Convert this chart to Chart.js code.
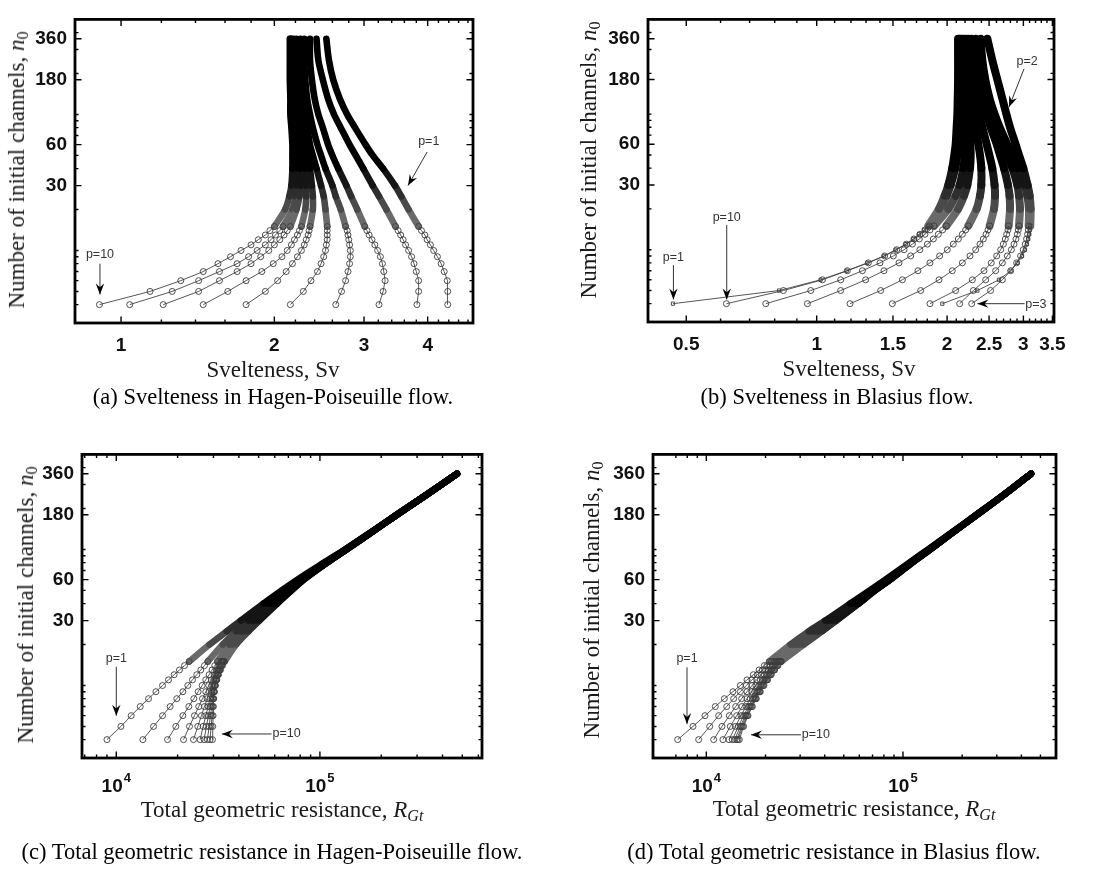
<!DOCTYPE html>
<html>
<head>
<meta charset="utf-8">
<script src="https://cdn.jsdelivr.net/npm/chart.js@4.4.1/dist/chart.umd.min.js"></script>
<style>
  html,body{margin:0;padding:0;background:#fff;}
  body{width:1094px;height:870px;position:relative;overflow:hidden;}
  canvas{position:absolute;}
  .t{position:absolute;font-family:"Liberation Serif","Times New Roman",serif;color:#1a1a1a;white-space:nowrap;transform:translate(-50%,-50%);font-size:23px;line-height:1;}
  .yt{transform:translate(-50%,-50%) rotate(-90deg);}
  .t sub{font-size:70%;vertical-align:-0.25em;}
  .cap{font-size:22.5px;color:#000;}
</style>
</head>
<body>
<canvas id="ca" width="547" height="435" style="left:0;top:0"></canvas>
<canvas id="cb" width="547" height="435" style="left:547px;top:0"></canvas>
<canvas id="cc" width="547" height="435" style="left:0;top:435px"></canvas>
<canvas id="cd" width="547" height="435" style="left:547px;top:435px"></canvas>

<div class="t yt" style="left:18px;top:170px">Number of initial channels, <i>n</i><sub>0</sub></div>
<div class="t" style="left:273px;top:369px">Svelteness, Sv</div>
<div class="t cap" style="left:273px;top:397px">(a) Svelteness in Hagen-Poiseuille flow.</div>

<div class="t yt" style="left:590px;top:160px">Number of initial channels, <i>n</i><sub>0</sub></div>
<div class="t" style="left:849px;top:368px">Svelteness, Sv</div>
<div class="t cap" style="left:837px;top:397px">(b) Svelteness in Blasius flow.</div>

<div class="t yt" style="left:27px;top:605px">Number of initial channels, <i>n</i><sub>0</sub></div>
<div class="t" style="left:282px;top:811px">Total geometric resistance, <i>R</i><sub><i>Gt</i></sub></div>
<div class="t cap" style="left:272px;top:852px">(c) Total geometric resistance in Hagen-Poiseuille flow.</div>

<div class="t yt" style="left:593px;top:600px">Number of initial channels, <i>n</i><sub>0</sub></div>
<div class="t" style="left:854px;top:810px">Total geometric resistance, <i>R</i><sub><i>Gt</i></sub></div>
<div class="t cap" style="left:834px;top:852px">(d) Total geometric resistance in Blasius flow.</div>

<script>
// ---------------- DATA ----------------
// number of initial channels at which each series is sampled
const N0 = [4,5,6,7,8,9,10,11,12,13,14,15,20,25,30,40,50,60,80,100,130,180,250,360];
const CIRCLE_COUNT = 12; // the first 12 samples show as separate markers

// y-axis ticks
const Y_LABELS = [30, 60, 180, 360];
const Y_MINOR = [4,5,6,7,8,9,10,20,40,50,70,80,90,100,200,300,400];

// (a) Svelteness, Hagen-Poiseuille flow, p = 1..10
const hpSv_p1  = [4.38,4.38,4.37,4.31,4.25,4.18,4.11,4.05,3.99,3.95,3.89,3.84,3.67,3.55,3.45,3.27,3.12,3.02,2.88,2.78,2.69,2.61,2.56,2.53];
const hpSv_p2  = [3.81,3.84,3.84,3.80,3.76,3.72,3.67,3.62,3.58,3.54,3.50,3.46,3.32,3.21,3.12,2.99,2.89,2.81,2.70,2.62,2.55,2.49,2.44,2.42];
const hpSv_p3  = [3.21,3.27,3.30,3.28,3.26,3.23,3.19,3.15,3.11,3.07,3.04,3.01,2.91,2.83,2.77,2.67,2.60,2.55,2.49,2.44,2.40,2.37,2.35,2.35];
const hpSv_p4  = [2.64,2.71,2.76,2.79,2.81,2.82,2.82,2.81,2.80,2.79,2.78,2.76,2.70,2.64,2.60,2.52,2.47,2.43,2.38,2.35,2.32,2.30,2.29,2.29];
const hpSv_p5  = [2.15,2.28,2.36,2.43,2.47,2.50,2.52,2.53,2.54,2.54,2.54,2.54,2.52,2.50,2.47,2.42,2.38,2.35,2.32,2.29,2.27,2.26,2.25,2.25];
const hpSv_p6  = [1.76,1.92,2.03,2.11,2.17,2.22,2.26,2.29,2.31,2.33,2.34,2.35,2.38,2.38,2.37,2.35,2.33,2.31,2.28,2.26,2.23,2.22,2.21,2.21];
const hpSv_p7  = [1.45,1.62,1.76,1.89,1.99,2.07,2.12,2.16,2.19,2.22,2.24,2.26,2.30,2.31,2.31,2.30,2.28,2.27,2.24,2.22,2.21,2.19,2.19,2.18];
const hpSv_p8  = [1.21,1.42,1.56,1.69,1.80,1.88,1.95,2.00,2.05,2.09,2.12,2.15,2.21,2.24,2.25,2.25,2.24,2.23,2.21,2.19,2.18,2.17,2.16,2.16];
const hpSv_p9  = [1.04,1.26,1.42,1.56,1.69,1.78,1.85,1.92,1.97,2.01,2.05,2.08,2.17,2.20,2.21,2.22,2.21,2.21,2.19,2.18,2.17,2.16,2.15,2.15];
const hpSv_p10 = [0.907,1.14,1.31,1.45,1.55,1.64,1.72,1.80,1.86,1.92,1.96,2.00,2.10,2.14,2.16,2.17,2.17,2.17,2.16,2.15,2.15,2.145,2.145,2.145];

// (b) Svelteness, Blasius flow, p = 1..10
const blSv_p1  = [0.466,0.819,1.021,1.173,1.309,1.430,1.522,1.605,1.672,1.722,1.769,1.810,1.916,1.974,2.013,2.056,2.078,2.093,2.104,2.112,2.116,2.120,2.120,2.120];
const blSv_p2  = [1.950,2.349,2.635,2.804,2.905,2.978,3.025,3.057,3.079,3.096,3.107,3.112,3.118,3.101,3.068,2.998,2.931,2.878,2.794,2.741,2.683,2.612,2.543,2.477];
const blSv_p3  = [2.279,2.520,2.683,2.804,2.894,2.956,2.998,3.030,3.051,3.068,3.079,3.086,3.090,3.063,3.020,2.915,2.829,2.754,2.645,2.575,2.508,2.450,2.412,2.390];
const blSv_p4  = [2.138,2.299,2.455,2.589,2.683,2.754,2.814,2.854,2.884,2.905,2.920,2.931,2.946,2.931,2.905,2.829,2.754,2.697,2.603,2.534,2.468,2.403,2.357,2.328];
const blSv_p5  = [1.826,2.093,2.287,2.433,2.529,2.603,2.659,2.697,2.725,2.745,2.764,2.774,2.794,2.787,2.764,2.706,2.649,2.603,2.520,2.464,2.403,2.352,2.307,2.275];
const blSv_p6  = [1.495,1.738,1.916,2.056,2.169,2.259,2.328,2.382,2.425,2.460,2.486,2.508,2.566,2.580,2.574,2.543,2.503,2.468,2.412,2.370,2.328,2.287,2.255,2.235];
const blSv_p7  = [1.194,1.405,1.577,1.713,1.826,1.922,2.002,2.067,2.123,2.169,2.207,2.239,2.340,2.382,2.399,2.399,2.382,2.361,2.324,2.295,2.263,2.235,2.215,2.203];
const blSv_p8  = [0.952,1.136,1.297,1.430,1.549,1.648,1.731,1.801,1.859,1.909,1.953,1.992,2.120,2.188,2.227,2.259,2.267,2.263,2.246,2.231,2.211,2.192,2.181,2.177];
const blSv_p9  = [0.763,0.969,1.136,1.275,1.400,1.503,1.591,1.663,1.725,1.778,1.826,1.866,2.013,2.093,2.138,2.181,2.196,2.200,2.196,2.188,2.177,2.165,2.157,2.154];
const blSv_p10 = [0.619,0.838,1.031,1.177,1.316,1.435,1.530,1.611,1.677,1.731,1.778,1.820,1.926,1.995,2.038,2.089,2.112,2.123,2.130,2.134,2.134,2.134,2.134,2.134];

// (c) Total geometric resistance, Hagen-Poiseuille flow, p = 1..10
const hpR_p1  = [9000,10540,11840,13110,14400,15650,16870,18050,19240,20430,21630,22800,28680,34860,40840,52750,64870,77420,104600,132600,172600,237600,330800,471200];
const hpR_p2  = [13510,15240,16870,18390,19830,21230,22460,23670,24850,26000,27100,28140,33340,38750,44530,55800,67350,79190,105800,133100,173200,238500,330800,471200];
const hpR_p3  = [17850,19610,21230,22710,24030,25230,26400,27510,28570,29550,30450,31380,35930,40840,46590,57300,68630,80400,106600,133600,173200,238500,330800,471200];
const hpR_p4  = [21390,22880,24210,25420,26500,27510,28460,29330,30220,31030,31860,32720,36900,41770,47120,58160,69400,81010,107000,134100,173900,238500,330800,471200];
const hpR_p5  = [23940,25130,26200,27100,27930,28680,29440,30100,30800,31500,32230,32970,37310,42240,47830,59040,70200,81620,107400,134100,173900,238500,330800,471200];
const hpR_p6  = [25810,26700,27510,28250,28890,29440,29990,30570,31150,31740,32350,33090,37600,42720,48370,59710,71000,82230,107800,134600,173900,238500,330800,471200];
const hpR_p7  = [27010,27720,28350,28890,29440,29880,30340,30800,31380,31980,32600,33340,38030,43370,48920,60390,71540,82540,108200,134600,173900,238500,330800,471200];
const hpR_p8  = [28030,28570,29000,29440,29770,30100,30450,30920,31500,32110,32840,33600,38320,43870,49480,60850,72080,82850,108200,135100,174500,239400,332000,471200];
const hpR_p9  = [28890,29220,29550,29770,29990,30220,30570,31030,31620,32230,32970,33720,38610,44200,50040,61310,72350,83160,108600,135100,174500,239400,332000,471200];
const hpR_p10 = [29660,29770,29880,29990,30100,30340,30680,31150,31740,32480,33220,34000,38750,44530,50420,61770,72630,83470,108600,135100,174500,239400,332000,471200];

// (d) Total geometric resistance, Blasius flow, p = 1..10
const blR_p1  = [7149,8554,9845,11110,12350,13660,14890,16100,17340,18530,19720,20910,26740,33140,40290,53980,67680,81330,107700,134100,172800,236000,322400,447600];
const blR_p2  = [9143,10400,11550,12690,13770,14890,15970,17070,18170,19270,20340,21490,27480,34060,41400,55050,68750,82280,108500,135100,173400,236900,322400,447600];
const blR_p3  = [10900,12010,13090,14100,15120,16100,17070,18030,19040,20030,21070,22080,28240,35010,42380,55910,69560,83240,109400,135600,174100,236900,322400,447600];
const blR_p4  = [12150,13240,14270,15180,16100,17000,17880,18820,19720,20660,21660,22600,28910,35840,43220,56790,70380,83890,109800,136200,174100,236900,322400,447600];
const blR_p5  = [13040,14040,15010,15910,16740,17610,18460,19340,20190,21070,22000,22960,29480,36540,43900,57450,70930,84550,110300,136700,174800,236900,322400,447600];
const blR_p6  = [13560,14550,15480,16350,17200,18030,18820,19640,20500,21400,22340,23230,29950,37120,44420,58130,71480,85210,110700,137200,174800,237800,323700,447600];
const blR_p7  = [13930,14890,15790,16610,17470,18310,19110,19950,20830,21660,22600,23500,30420,37700,44930,58590,71760,85550,111100,137200,174800,237800,323700,447600];
const blR_p8  = [14270,15120,15970,16800,17680,18530,19340,20190,21070,21910,22870,23780,30780,38150,45290,59050,72040,85880,111100,137700,175400,237800,323700,447600];
const blR_p9  = [14490,15300,16160,17000,17810,18670,19490,20340,21240,22080,22960,23880,31020,38440,45640,59280,72040,85880,111600,137700,175400,237800,323700,447600];
const blR_p10 = [14720,15480,16290,17140,17960,18820,19640,20500,21400,22260,23140,24060,31260,38750,45820,59510,72320,86220,111600,137700,175400,237800,323700,447600];

// x-axis tick values
const XA_LABELS = [1, 2, 3, 4];
const XA_MINOR = [1.2,1.4,1.6,1.8,2.2,2.4,2.6,2.8,3.2,3.4,3.6,3.8,4.2,4.4,4.6,4.8];
const XB_LABELS = [0.5, 1, 1.5, 2, 2.5, 3, 3.5];
const XB_MINOR = [0.6,0.7,0.8,0.9,1.1,1.2,1.3,1.4,1.6,1.7,1.8,1.9,2.1,2.2,2.3,2.4,2.6,2.7,2.8,2.9,3.1,3.2,3.3,3.4];
const XR_LABELS = [1e4, 1e5];
const XR_MINOR = [7e3,8e3,9e3,2e4,3e4,4e4,5e4,6e4,7e4,8e4,9e4,2e5,3e5,4e5,5e5,6e5];

// ---------------- CHARTS ----------------
const SANS = '"Liberation Sans", Arial, Helvetica, sans-serif';
Chart.defaults.font.family = SANS;

const panels = [
  { id:'ca', series:[hpSv_p1,hpSv_p2,hpSv_p3,hpSv_p4,hpSv_p5,hpSv_p6,hpSv_p7,hpSv_p8,hpSv_p9,hpSv_p10],
    squares:[], xMin:0.812, xMax:4.91, xLabels:XA_LABELS, xMinor:XA_MINOR, pow:false, band:6.6,
    pad:{top:10,right:74}, yW:75, xH:112,
    notes:[ {t:'p=10', x:0.909, y:9.4}, {a:[0.909,8.0,0.909,4.75]},
            {t:'p=1', x:4.02, y:63}, {a:[3.99,53,3.66,30]} ] },
  { id:'cb', series:[blSv_p1,blSv_p2,blSv_p3,blSv_p4,blSv_p5,blSv_p6,blSv_p7,blSv_p8,blSv_p9,blSv_p10],
    squares:[0,1], xMin:0.408, xMax:3.53, xLabels:XB_LABELS, xMinor:XB_MINOR, pow:false, band:8,
    pad:{top:3,right:40}, yW:101, xH:113,
    notes:[ {t:'p=1', x:0.467, y:8.7}, {a:[0.467,7.7,0.467,4.3]},
            {t:'p=10', x:0.620, y:17.2}, {a:[0.620,15.2,0.620,4.3]},
            {t:'p=2', x:3.06, y:246}, {a:[3.01,216,2.78,113]},
            {t:'p=3', x:3.03, y:3.95, left:true}, {a:[3.02,4.0,2.35,4.0]} ] },
  { id:'cc', series:[hpR_p1,hpR_p2,hpR_p3,hpR_p4,hpR_p5,hpR_p6,hpR_p7,hpR_p8,hpR_p9,hpR_p10],
    squares:[], xMin:6787, xMax:625000, xLabels:XR_LABELS, xMinor:XR_MINOR, pow:true, band:6.6,
    pad:{top:13,right:65}, yW:82, xH:112,
    notes:[ {t:'p=1', x:10000, y:15.8}, {a:[10000,13.7,10000,6.0]},
            {t:'p=10', x:58500, y:4.4, left:true}, {a:[57900,4.4,33000,4.4]} ] },
  { id:'cd', series:[blR_p1,blR_p2,blR_p3,blR_p4,blR_p5,blR_p6,blR_p7,blR_p8,blR_p9,blR_p10],
    squares:[], xMin:5356, xMax:600000, xLabels:XR_LABELS, xMinor:XR_MINOR, pow:true, band:6.6,
    pad:{top:10,right:38}, yW:106, xH:112,
    notes:[ {t:'p=1', x:7975, y:15.7}, {a:[7975,13.6,7975,5.2]},
            {t:'p=10', x:30600, y:4.34, left:true}, {a:[30300,4.34,16870,4.34]} ] }
];

function drawArrow(ctx, x1, y1, x2, y2) {
  ctx.strokeStyle = '#333'; ctx.lineWidth = 1;
  ctx.beginPath(); ctx.moveTo(x1, y1); ctx.lineTo(x2, y2); ctx.stroke();
  const ang = Math.atan2(y2 - y1, x2 - x1), L = 11, W = 4.2;
  const c = Math.cos(ang), s = Math.sin(ang);
  const bx = x2 - L * c, by = y2 - L * s, mx = x2 - 0.65 * L * c, my = y2 - 0.65 * L * s;
  ctx.fillStyle = '#000';
  ctx.beginPath();
  ctx.moveTo(x2, y2);
  ctx.lineTo(bx - s * W, by + c * W);
  ctx.lineTo(mx, my);
  ctx.lineTo(bx + s * W, by - c * W);
  ctx.closePath(); ctx.fill();
}

function makeDecor(cfg) {
  return {
    id: 'decor_' + cfg.id,
    afterDraw(chart) {
      const { ctx, chartArea: a } = chart;
      const xs = chart.scales.x, ys = chart.scales.y;
      ctx.save();
      // inward tick marks on all four sides
      ctx.strokeStyle = '#000'; ctx.lineWidth = 1.4;
      ctx.beginPath();
      const addX = (v, len) => {
        const p = xs.getPixelForValue(v);
        if (p < a.left + 1 || p > a.right - 1) return;
        ctx.moveTo(p, a.bottom); ctx.lineTo(p, a.bottom - len);
        ctx.moveTo(p, a.top); ctx.lineTo(p, a.top + len);
      };
      const addY = (v, len) => {
        const p = ys.getPixelForValue(v);
        if (p < a.top + 1 || p > a.bottom - 1) return;
        ctx.moveTo(a.left, p); ctx.lineTo(a.left + len, p);
        ctx.moveTo(a.right, p); ctx.lineTo(a.right - len, p);
      };
      cfg.xLabels.forEach(v => addX(v, 6.5));
      cfg.xMinor.forEach(v => addX(v, 3.5));
      Y_LABELS.forEach(v => addY(v, 6.5));
      Y_MINOR.forEach(v => addY(v, 3.5));
      ctx.stroke();
      // frame
      ctx.lineWidth = 2.8;
      ctx.strokeRect(a.left, a.top, a.right - a.left, a.bottom - a.top);
      // power-of-ten labels
      if (cfg.pow) {
        ctx.fillStyle = '#111';
        ctx.textBaseline = 'alphabetic';
        cfg.xLabels.forEach(v => {
          const px = xs.getPixelForValue(v);
          const e = String(Math.round(Math.log10(v)));
          ctx.font = 'bold 19px ' + SANS; const w1 = ctx.measureText('10').width;
          ctx.font = 'bold 13px ' + SANS; const w2 = ctx.measureText(e).width;
          const x0 = px - (w1 + w2 + 1) / 2;
          ctx.font = 'bold 19px ' + SANS; ctx.textAlign = 'left';
          ctx.fillText('10', x0, a.bottom + 34);
          ctx.font = 'bold 13px ' + SANS;
          ctx.fillText(e, x0 + w1 + 1, a.bottom + 24);
        });
      }
      // annotations
      ctx.font = '12.5px ' + SANS; ctx.textBaseline = 'middle';
      cfg.notes.forEach(n => {
        if (n.a) {
          drawArrow(ctx, xs.getPixelForValue(n.a[0]), ys.getPixelForValue(n.a[1]),
                         xs.getPixelForValue(n.a[2]), ys.getPixelForValue(n.a[3]));
        } else {
          ctx.fillStyle = '#333';
          ctx.textAlign = n.left ? 'left' : 'center';
          ctx.fillText(n.t, xs.getPixelForValue(n.x), ys.getPixelForValue(n.y));
        }
      });
      ctx.restore();
    }
  };
}

// dense part of each curve: overlapping markers read as a band that darkens upward
function bandColor(c) {
  const n = c.p0.parsed.y;
  return n < 20 ? '#6a6a6a' : (n < 25 ? '#4a4a4a' : (n < 30 ? '#2e2e2e' : (n < 40 ? '#151515' : '#000')));
}

panels.forEach(cfg => {
  const datasets = [];
  cfg.series.forEach((vals, k) => {
    const pts = N0.map((n, i) => ({ x: vals[i], y: n }));
    const sq = cfg.squares.includes(k);
    datasets.push({
      data: pts.slice(0, CIRCLE_COUNT), order: 0,
      borderColor: '#444', borderWidth: 0.9, tension: 0,
      pointStyle: sq ? 'rect' : 'circle', pointRadius: sq ? 2.3 : 3,
      pointBorderColor: '#3c3c3c', pointBorderWidth: 0.9,
      pointBackgroundColor: 'rgba(255,255,255,0)'
    });
    datasets.push({
      data: pts.slice(CIRCLE_COUNT - 1), order: 1,
      borderColor: '#000', borderWidth: cfg.band, tension: 0.3, pointRadius: 0,
      borderCapStyle: 'round', borderJoinStyle: 'round',
      segment: { borderColor: bandColor }
    });
  });
  new Chart(document.getElementById(cfg.id), {
    type: 'line',
    data: { datasets },
    options: {
      responsive: false, animation: false, events: [],
      layout: { padding: { top: cfg.pad.top, right: cfg.pad.right, left: 0, bottom: 0 } },
      plugins: { legend: { display: false }, tooltip: { enabled: false } },
      scales: {
        x: {
          type: 'logarithmic', min: cfg.xMin, max: cfg.xMax,
          grid: { display: false, drawTicks: false }, border: { display: false },
          afterBuildTicks: s => { s.ticks = cfg.xLabels.map(v => ({ value: v })); },
          afterFit: s => { s.height = cfg.xH; },
          ticks: {
            autoSkip: false, maxRotation: 0, padding: 11, color: '#111',
            font: { family: SANS, size: 19, weight: 'bold' },
            callback: v => cfg.pow ? '' : String(v)
          }
        },
        y: {
          type: 'logarithmic', min: 2.93, max: 500,
          grid: { display: false, drawTicks: false }, border: { display: false },
          afterBuildTicks: s => { s.ticks = Y_LABELS.map(v => ({ value: v })); },
          afterFit: s => { s.width = cfg.yW; },
          ticks: {
            autoSkip: false, padding: 8, color: '#111',
            font: { family: SANS, size: 19, weight: 'bold' },
            callback: v => String(v)
          }
        }
      }
    },
    plugins: [makeDecor(cfg)]
  });
});
</script>
</body>
</html>
